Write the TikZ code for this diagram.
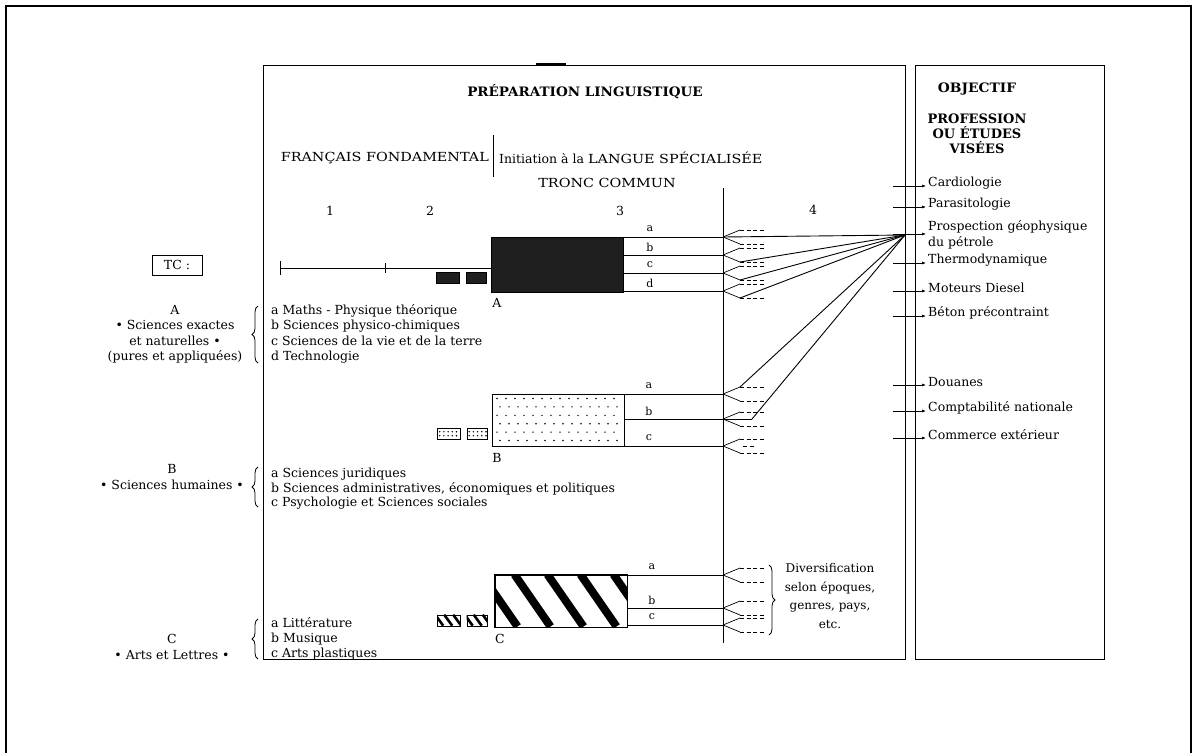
\documentclass[tikz,border=0pt]{standalone}
\usepackage{fontspec}
\usepackage{graphicx}
\setmainfont{DejaVu Serif}
\usetikzlibrary{arrows.meta,positioning,calc,decorations.pathreplacing}
\tikzset{
  frame/.style={draw=black, line width=1pt},
  txt/.style={inner sep=0pt, align=center, font=\fontsize{12.5}{15.5}\selectfont},
  head/.style={inner sep=0pt, align=center, font=\bfseries\fontsize{13}{15}\selectfont},
  list/.style={inner sep=0pt, align=left, anchor=west, font=\fontsize{12.5}{15.5}\selectfont},
  lbl/.style={inner sep=0pt, font=\fontsize{11}{13}\selectfont},
  block/.style={draw=black, line width=1pt, minimum width=132pt, minimum height=52pt, inner sep=0pt},
  chip/.style={draw=black, line width=0.6pt, minimum width=23pt, minimum height=11pt, inner sep=0pt},
  branch/.style={line width=0.9pt},
  prong/.style={line width=0.7pt},
  stub/.style={line width=0.7pt, dash pattern=on 4pt off 2.5pt},
  goal/.style={-{Latex[length=4pt,width=3pt]}, line width=0.7pt},
  curly/.style={decorate, decoration={brace, amplitude=6pt}, line width=0.8pt}
}
\newcommand{\widecaps}[1]{\scalebox{1.15}[1]{#1}}
\newcommand{\forkat}[1]{%
  \draw[prong] (#1) -- ++(17,-7) coordinate (#1-u);
  \draw[stub] (#1-u) -- ++(24,0);
  \draw[prong] (#1) -- ++(17,7) coordinate (#1-d);
  \draw[stub] (#1-d) -- ++(24,0);
}

\begin{document}
\begin{tikzpicture}[x=1pt,y=-1pt]
\useasboundingbox (0,0) rectangle (1196,753);
\draw[line width=1.4pt] (6,753) -- (6,6) -- (1191,6) -- (1191,753);
\draw[frame] (263,65) rectangle (905,659);
\draw[frame] (915,65) rectangle (1104,659);
\draw[line width=3pt] (536,64) -- (566,64);

\node[head] (prep) at (585,92) {\scalebox{1.04}[1]{PRÉPARATION LINGUISTIQUE}};
\node[txt, anchor=east] (ff) at (489,158) {\widecaps{FRANÇAIS FONDAMENTAL}};
\coordinate (sepT) at (493,135);
\coordinate (sepB) at (493,177);
\draw[branch] (sepT) -- (sepB);
\node[txt, anchor=west] (ini) at (499,158) {Initiation à la \widecaps{LANGUE SPÉCIALISÉE}};
\node[txt] (tronc) at (607,183) {\widecaps{TRONC COMMUN}};
\node[txt] (n1) at (330,211) {1};
\node[txt] (n2) at (430,211) {2};
\node[txt] (n3) at (620,211) {3};
\node[txt] (n4) at (813,210) {4};
\coordinate (divT) at (723,188);
\coordinate (divB) at (723,643);
\draw[branch] (divT) -- (divB);

\node[head] (obj) at (977,89) {\scalebox{1.06}[1]{OBJECTIF}};
\node[head] (visee) at (977,134) {PROFESSION\\OU ÉTUDES\\VISÉES};

\node[draw, line width=0.8pt, minimum width=50pt, minimum height=20pt, txt] (tc) at (177,265) {TC :};
\node[txt] (grpA) at (175,334) {A\\• Sciences exactes\\et naturelles •\\(pures et appliquées)};
\node[list] (lstA) at (271,334) {a Maths - Physique théorique\\b Sciences physico-chimiques\\c Sciences de la vie et de la terre\\d Technologie};
\draw[curly] (258,363) -- (258,306);
\node[txt] (grpB) at (172,477) {B\\• Sciences humaines •};
\node[list, font=\fontsize{12.5}{14.5}\selectfont] (lstB) at (271,489) {a Sciences juridiques\\b Sciences administratives, économiques et politiques\\c Psychologie et Sciences sociales};
\draw[curly] (258,507) -- (258,467);
\node[txt] (grpC) at (172,647) {C\\• Arts et Lettres •};
\node[list, font=\fontsize{12.5}{15}\selectfont] (lstC) at (271,639) {a Littérature\\b Musique\\c Arts plastiques};
\draw[curly] (258,659) -- (258,619);

\node[block, fill=black!88, minimum height=55pt] (blkA) at (557,264.5) {};
\node[txt] (labA) at (497,303) {A};
\node[chip, fill=black!88] (chA1) at (448,277.5) {};
\node[chip, fill=black!88, minimum width=20pt] (chA2) at (476,277.5) {};
\coordinate (t0) at (280,268);
\coordinate (t1) at (385,268);
\draw[branch] (t0) -- (t0 -| blkA.west);
\draw[branch] ($(t0)+(0,-7)$) -- ($(t0)+(0,7)$);
\draw[branch] ($(t1)+(0,-5)$) -- ($(t1)+(0,5)$);

\node[block] (blkB) at (558.5,420) {};
\foreach \i in {0,...,13}
  \foreach \j in {0,...,5}
    \fill ($(blkB.north west)+({5+9*\i+3*mod(\j,2)},{5+8.4*\j})$) circle[radius=0.8pt];
\node[txt] (labB) at (497,458) {B};
\node[chip] (chB1) at (449,434) {};
\node[chip, minimum width=20pt] (chB2) at (477,434) {};
\foreach \c in {chB1,chB2}
  \foreach \i in {0,...,4}
    \foreach \j in {0,1}
      \fill ($(\c.north west)+({2.5+4.2*\i},{3.5+4*\j})$) circle[radius=0.8pt];

\node[block] (blkC) at (561,601) {};
\begin{scope}
  \clip (blkC.north west) rectangle (blkC.south east);
  \foreach \k in {-2,...,3}
    \draw[line width=8pt] ($(blkC.north west)+(20+33*\k,0)$) -- ++(36,52);
\end{scope}
\draw[line width=1pt] (blkC.north west) rectangle (blkC.south east);
\node[txt] (labC) at (500,639) {C};
\node[chip] (chC1) at (449,620.5) {};
\node[chip, minimum width=20pt] (chC2) at (477,620.5) {};
\foreach \c in {chC1,chC2}{
  \begin{scope}
    \clip (\c.north west) rectangle (\c.south east);
    \foreach \k in {0,1,2}
      \draw[line width=2.6pt] ($(\c.north west)+(9*\k-2,0)$) -- ++(8,11);
  \end{scope}
}

\coordinate (focus) at (905,235);
\foreach \n/\y in {a/237,b/255,c/273,d/291}{
  \coordinate (A\n) at (723,\y);
  \draw[branch] (blkA.east |- A\n) -- (A\n);
  \node[lbl] (lA\n) at (650,\y-8) {\n};
  \forkat{A\n}
}
\foreach \n/\y in {a/394,b/419,c/446}{
  \coordinate (B\n) at (723,\y);
  \draw[branch] (blkB.east |- B\n) -- (B\n);
  \node[lbl] (lB\n) at (649,\y-8) {\n};
  \forkat{B\n}
}
\foreach \n/\y in {a/575,b/608,c/625}{
  \coordinate (C\n) at (723,\y);
  \draw[branch] (blkC.east |- C\n) -- (C\n);
  \node[lbl] (lC\n) at (652,\y-8) {\n};
  \forkat{C\n}
}
\draw[branch] (Aa) -- (focus);
\draw[branch] (Bb) -- ++(29,0) coordinate (Bb-m);
\coordinate (Bc-m) at ($(Bc)+(20,0)$);
\draw[stub] (Bc-m) -- ++(12,0);
\foreach \e in {Ab-d,Ac-d,Ad-d,Ba-u,Bb-m}
  \draw[branch] (\e) -- (focus);

\draw[curly] (769,565) -- (769,635);
\node[txt, font=\fontsize{12}{18.5}\selectfont] (diver) at (830,596) {Diversification\\selon époques,\\genres, pays,\\etc.};

\foreach \nm/\y/\t in {card/186/Cardiologie,para/207/Parasitologie,therm/263/Thermodynamique,mot/291/Moteurs Diesel,bet/316/Béton précontraint,doua/385/Douanes,compt/411/Comptabilité nationale,comm/438/Commerce extérieur}{
  \node[list] (g\nm) at (928,\y-3) {\t};
  \coordinate (s\nm) at (893,\y);
  \draw[goal] (s\nm) -- ($(s\nm -| g\nm.west)+(-2,0)$);
}
\node[list] (gpros) at (928,235) {Prospection géophysique\\du pétrole};
\coordinate (spros) at (893,234);
\draw[goal] (spros) -- ($(spros -| gpros.west)+(-2,0)$);
\end{tikzpicture}
\end{document}
